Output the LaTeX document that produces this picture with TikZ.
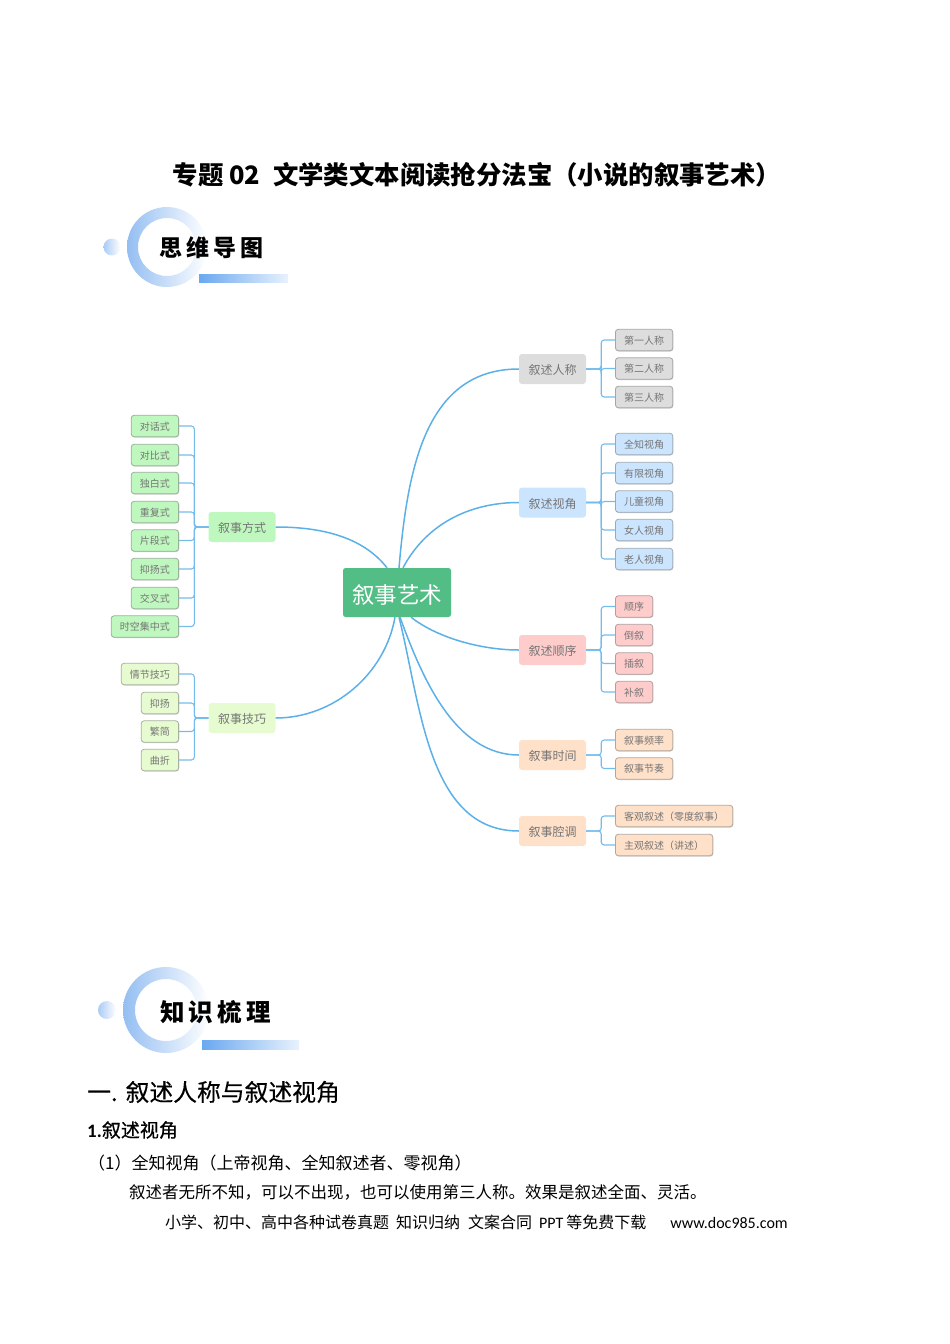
\documentclass[tikz,border=0pt]{standalone}
\usepackage{fontspec}
\setmainfont{Noto Sans CJK SC}
\newfontfamily\latinbold{Carlito}
\usetikzlibrary{shadows}
\definecolor{linkblue}{HTML}{5BB0E8}
\definecolor{labelgray}{HTML}{757575}
\definecolor{rootgreen}{HTML}{52BE86}
\definecolor{c gray}{HTML}{DDDDDD}
\definecolor{c blue}{HTML}{CCE5FF}
\definecolor{c pink}{HTML}{FFCCCC}
\definecolor{c peach}{HTML}{FFE0C8}
\definecolor{c green}{HTML}{BFF8BF}
\definecolor{c lime}{HTML}{E6FCD0}
\definecolor{ringblue}{HTML}{94BEF2}
\definecolor{barblue}{HTML}{6AA8F0}
\newcommand{\fsz}[1]{\fontsize{#1}{#1}\selectfont}
\begin{document}
\begin{tikzpicture}[x=1pt,y=-1pt,
	root/.style={fill=rootgreen,text=white,rounded corners=2.5pt,minimum width=108pt,minimum height=49pt,inner sep=0pt,text height=23.4pt,font=\fsz{22.5}},
	branch/.style={fill=#1,text=labelgray,rounded corners=3pt,minimum width=67pt,minimum height=30pt,inner sep=0pt,text height=12.6pt,font=\fsz{12}},
	leaf/.style={fill=#1,draw=#1!40!gray,line width=0.8pt,text=labelgray,rounded corners=3pt,minimum height=21.5pt,inner xsep=8.7pt,inner ysep=0pt,text height=9.3pt,font=\fsz{10},
		drop shadow={shadow xshift=0.5pt,shadow yshift=-0.8pt,fill=black!40,opacity=0.5}},
	link/.style={draw=linkblue,line width=1.5pt},
	twig/.style={draw=linkblue!85,line width=1.1pt,rounded corners=3pt},
	plain/.style={inner sep=0pt,text=black}]
	\useasboundingbox (0,0) rectangle (950,1344);

	% Titulo
	\node[plain,font=\fsz{25.4}\bfseries] (title) at (477,175) {专题 02 \;文学类文本阅读抢分法宝（小说的叙事艺术）};

	% Cabecera 1
	\shade[even odd rule,left color=ringblue,middle color=ringblue!45,right color=white]
		(167,247) circle (40) (167,247) circle (29);
	\shade[left color=ringblue!80,right color=white] (112,247) circle (8.5);
	\shade[left color=barblue,right color=barblue!15] (199,274) rectangle (288,282);
	\node[plain,font=\fsz{23}\bfseries] (head1) at (211.5,248) {思\,维\,导\,图};

	% Cabecera 2
	\shade[even odd rule,left color=ringblue,middle color=ringblue!45,right color=white]
		(166,1010) circle (43) (166,1010) circle (31);
	\shade[left color=ringblue!80,right color=white] (107,1010) circle (9);
	\shade[left color=barblue,right color=barblue!15] (202,1040) rectangle (299,1049);
	\node[plain,font=\fsz{24.5}\bfseries] (head2) at (215.5,1012) {知\,识\,梳\,理};

	% Nodo central
	\node[root] (R) at (397,592.5) {叙事艺术};

	% Ramas
	\foreach \name/\x/\y/\col/\txt in {
		A/552.5/369/c gray/叙述人称, B/552.5/502.5/c blue/叙述视角, C/552.5/650/c pink/叙述顺序,
		D/552.5/755/c peach/叙事时间, E/552.5/831/c peach/叙事腔调,
		F/242/527/c green/叙事方式, G/242/718/c lime/叙事技巧}
		\node[branch=\col] (\name) at (\x,\y) {\txt};

	% Conexiones centrales
	\path[link] ([xshift=2pt]R.north) to[out=85,in=180,looseness=1.05] (A.west);
	\path[link] ([xshift=6pt]R.north) to[out=62,in=180,looseness=0.95] (B.west);
	\path[link] ([xshift=14pt]R.south) to[out=-38,in=180,looseness=0.8] (C.west);
	\path[link] ([xshift=3pt]R.south) to[out=-70,in=180,looseness=0.9] (D.west);
	\path[link] ([xshift=2pt]R.south) to[out=-76,in=180,looseness=0.95] (E.west);
	\path[link] (F.east) to[out=0,in=128,looseness=0.9] ([xshift=-10pt]R.north);
	\path[link] (G.east) to[out=0,in=-100,looseness=0.95] ([xshift=-2pt]R.south);

	% Hojas derechas
	\foreach \name/\y/\txt in {1/340/第一人称, 2/368.5/第二人称, 3/397/第三人称}{
		\node[leaf=c gray,anchor=west] (A-\name) at (615,\y) {\txt};
		\draw[twig] (A.east) -- ++(15,0) |- (A-\name.west);
	}
	\foreach \name/\y/\txt in {1/444/全知视角, 2/473/有限视角, 3/501.5/儿童视角, 4/530/女人视角, 5/559/老人视角}{
		\node[leaf=c blue,anchor=west] (B-\name) at (615,\y) {\txt};
		\draw[twig] (B.east) -- ++(15,0) |- (B-\name.west);
	}
	\foreach \name/\y/\txt in {1/606.5/顺序, 2/635/倒叙, 3/663.5/插叙, 4/692/补叙}{
		\node[leaf=c pink,anchor=west] (C-\name) at (615,\y) {\txt};
		\draw[twig] (C.east) -- ++(15,0) |- (C-\name.west);
	}
	\foreach \name/\y/\txt in {1/740/叙事频率, 2/768.5/叙事节奏}{
		\node[leaf=c peach,anchor=west] (D-\name) at (615,\y) {\txt};
		\draw[twig] (D.east) -- ++(15,0) |- (D-\name.west);
	}
	\foreach \name/\y/\txt in {1/816/客观叙述（零度叙事）, 2/845/主观叙述（讲述）}{
		\node[leaf=c peach,anchor=west] (E-\name) at (615,\y) {\txt};
		\draw[twig] (E.east) -- ++(15,0) |- (E-\name.west);
	}

	% Hojas izquierdas
	\foreach \name/\y/\txt in {1/426/对话式, 2/455/对比式, 3/483/独白式, 4/512/重复式, 5/540.5/片段式, 6/569/抑扬式, 7/598/交叉式, 8/626.5/时空集中式}{
		\node[leaf=c green,anchor=east] (F-\name) at (179,\y) {\txt};
		\draw[twig] (F.west) -- ++(-14,0) |- (F-\name.east);
	}
	\foreach \name/\y/\txt in {1/674/情节技巧, 2/703/抑扬, 3/731.5/繁简, 4/760/曲折}{
		\node[leaf=c lime,anchor=east] (G-\name) at (179,\y) {\txt};
		\draw[twig] (G.west) -- ++(-14,0) |- (G-\name.east);
	}

	% Texto inferior
	\node[plain,anchor=west,font=\fsz{23.8}\addfontfeature{FakeBold=0.3}] (sec) at (87,1092) {一.\hspace{8pt}叙述人称与叙述视角};
	\node[plain,anchor=west,font=\fsz{19}\addfontfeature{FakeBold=0.6}] (sub) at (87,1130) {{\latinbold\bfseries 1.}叙述视角};
	\node[plain,anchor=west,font=\fsz{17}] (line1) at (88,1163) {（1）全知视角（上帝视角、全知叙述者、零视角）};
	\node[plain,anchor=west,font=\fsz{16.5}] (line2) at (129,1192) {叙述者无所不知，可以不出现，也可以使用第三人称。效果是叙述全面、灵活。};
	\node[plain,anchor=west,font=\fsz{16}] (foot) at (165,1222) {小学、初中、高中各种试卷真题\hspace{7pt}知识归纳\hspace{8pt}文案合同\hspace{7pt}{\latinbold PPT}\hspace{3pt}等免费下载\hspace{24pt}{\latinbold www.doc985.com}};
\end{tikzpicture}
\end{document}
